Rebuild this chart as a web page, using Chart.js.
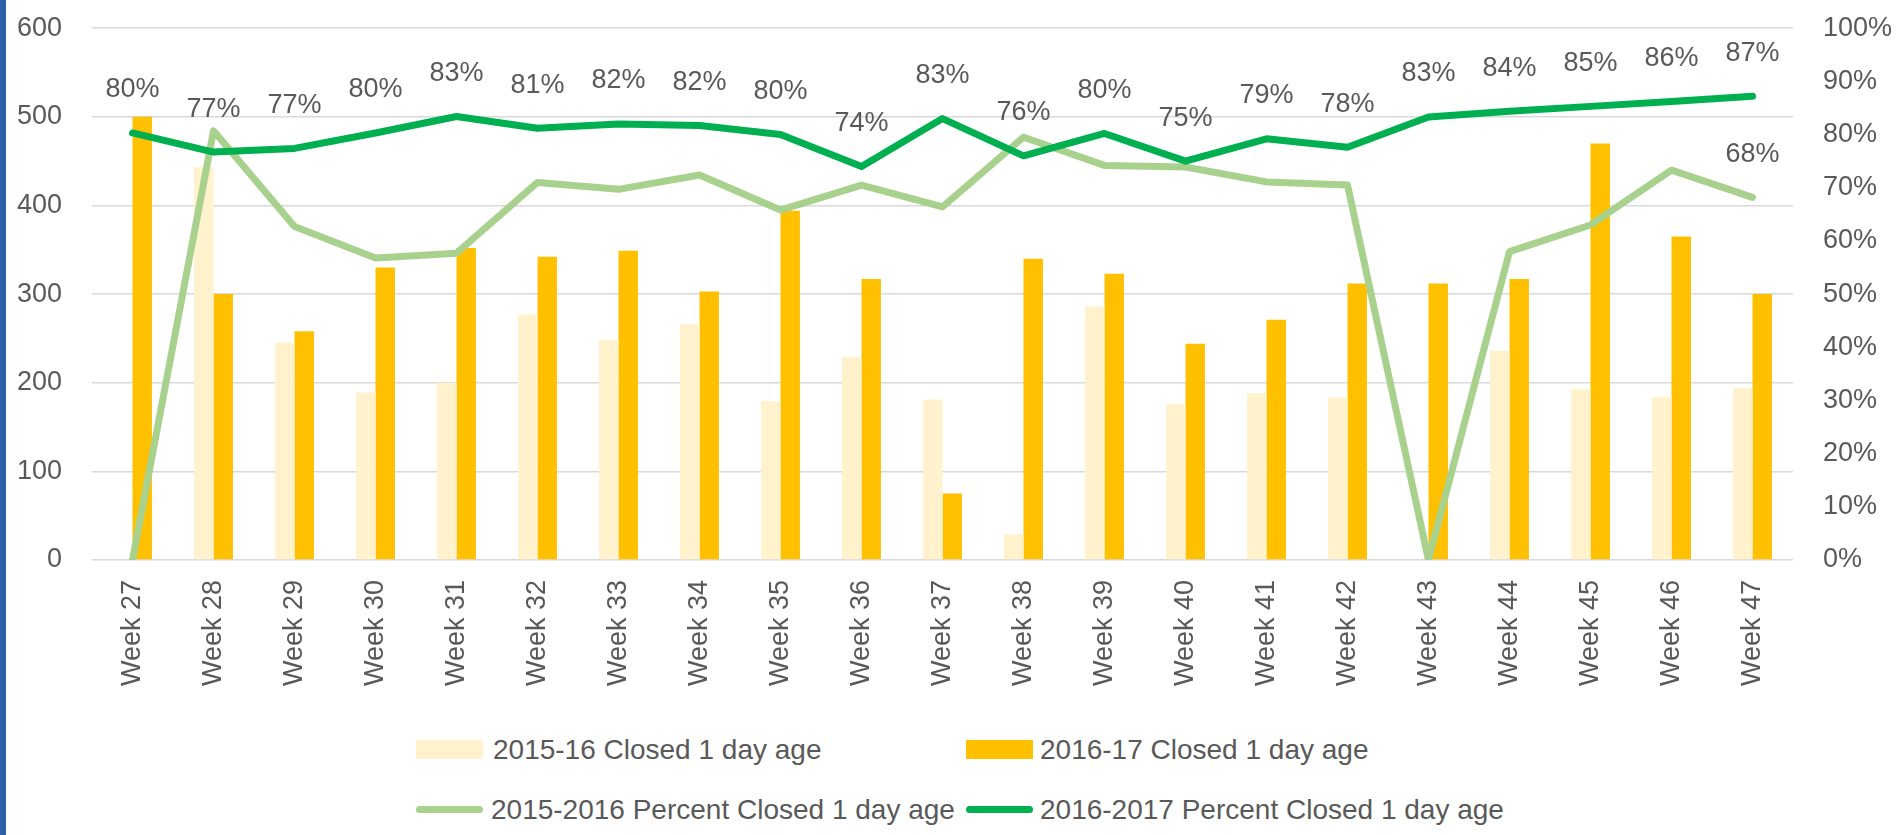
<!DOCTYPE html>
<html>
<head>
<meta charset="utf-8">
<script src="https://cdn.jsdelivr.net/npm/chart.js@4"></script>
<style>
  html, body { margin: 0; padding: 0; background: #ffffff; }
  body { width: 1901px; height: 835px; position: relative; overflow: hidden; font-family: "Liberation Sans", Arial, sans-serif; }
  #strip { position: absolute; left: 0; top: 0; width: 6px; height: 835px; background: #2F5EA8; }
  #wrap { position: absolute; left: 0; top: -18px; width: 1901px; height: 718px; }
  .lg { position: absolute; font-size: 28px; color: #595959; white-space: nowrap; line-height: 32px; }
  .sw { position: absolute; }
</style>
</head>
<body>
<div id="wrap"><canvas id="c" width="1901" height="718"></canvas></div>
<div id="strip"></div>
<div id="legend"></div>
<script>
const weeks = ["Week 27","Week 28","Week 29","Week 30","Week 31","Week 32","Week 33","Week 34","Week 35","Week 36","Week 37","Week 38","Week 39","Week 40","Week 41","Week 42","Week 43","Week 44","Week 45","Week 46","Week 47"];
const closed1516 = [0, 443, 245, 189, 200, 277, 248, 266, 179, 229, 181, 29, 286, 176, 188, 183, 0, 236, 193, 184, 194];
const closed1617 = [500, 300, 258, 330, 352, 342, 349, 303, 394, 317, 75, 340, 323, 244, 271, 312, 312, 317, 470, 365, 300];
const pct1516 = [0, 80.7, 62.7, 56.8, 57.7, 71, 69.7, 72.4, 65.8, 70.5, 66.4, 79.5, 74.2, 73.9, 71.1, 70.5, 0, 58, 63, 73.3, 68.2];
const pct1617 = [80.3, 76.7, 77.4, 80.3, 83.4, 81.2, 82, 81.7, 80, 74, 83, 76, 80.2, 75, 79.2, 77.6, 83.3, 84.4, 85.3, 86.2, 87.2];
const leftTicks = [0, 100, 200, 300, 400, 500, 600];
const rightTicks = [0, 10, 20, 30, 40, 50, 60, 70, 80, 90, 100];
const seriesNames = ["2015-16 Closed 1 day age", "2016-17 Closed 1 day age", "2015-2016 Percent Closed 1 day age", "2016-2017 Percent Closed 1 day age"];
const pct1516LabelIdx = [20];

const FONT = '"Liberation Sans", Arial, sans-serif';
const TXT = '#595959';
const colors = { light: '#FFF2CC', orange: '#FFC000', lgreen: '#A9D18E', dgreen: '#00B050' };

const pointLabels = {
  id: 'pointLabels',
  afterDatasetsDraw(chart) {
    const ctx = chart.ctx;
    ctx.save();
    ctx.font = '27px ' + FONT;
    ctx.fillStyle = TXT;
    ctx.textAlign = 'center';
    ctx.textBaseline = 'middle';
    chart.data.datasets.forEach((ds, di) => {
      if (!ds.labelIdx) return;
      const meta = chart.getDatasetMeta(di);
      ds.labelIdx.forEach(i => {
        const p = meta.data[i];
        ctx.fillText(Math.round(ds.data[i]) + '%', p.x, p.y - 43);
      });
    });
    ctx.restore();
  }
};

new Chart(document.getElementById('c'), {
  data: {
    labels: weeks,
    datasets: [
      { type: 'bar', label: seriesNames[0], data: closed1516, backgroundColor: colors.light, yAxisID: 'y', order: 3, barPercentage: 1, categoryPercentage: 0.48 },
      { type: 'bar', label: seriesNames[1], data: closed1617, backgroundColor: colors.orange, yAxisID: 'y', order: 3, barPercentage: 1, categoryPercentage: 0.48 },
      { type: 'line', label: seriesNames[2], data: pct1516, borderColor: colors.lgreen, backgroundColor: colors.lgreen, borderWidth: 7, pointRadius: 0, tension: 0, yAxisID: 'y1', order: 2, borderCapStyle: 'round', borderJoinStyle: 'round', labelIdx: pct1516LabelIdx },
      { type: 'line', label: seriesNames[3], data: pct1617, borderColor: colors.dgreen, backgroundColor: colors.dgreen, borderWidth: 7, pointRadius: 0, tension: 0, yAxisID: 'y1', order: 1, borderCapStyle: 'round', borderJoinStyle: 'round', labelIdx: pct1617.map((v, i) => i) }
    ]
  },
  options: {
    responsive: false,
    animation: false,
    devicePixelRatio: 1,
    layout: { padding: { top: 0, left: 0, right: 0, bottom: 0 } },
    plugins: { legend: { display: false }, tooltip: { enabled: false } },
    scales: {
      x: {
        grid: { display: false, drawTicks: false },
        border: { display: false },
        ticks: { color: TXT, font: { family: FONT, size: 27 }, minRotation: 90, maxRotation: 90, padding: 20, autoSkip: false },
        afterFit(s) { s.height = 140; }
      },
      y: {
        position: 'left', min: 0, max: 600,
        afterBuildTicks(s) { s.ticks = leftTicks.map(v => ({ value: v })); },
        grid: { color: '#D9D9D9', lineWidth: 1.5, drawTicks: false },
        border: { display: false },
        ticks: { color: TXT, font: { family: FONT, size: 27 }, padding: 30 },
        afterFit(s) { s.width = 92; }
      },
      y1: {
        position: 'right', min: 0, max: 100,
        afterBuildTicks(s) { s.ticks = rightTicks.map(v => ({ value: v })); },
        grid: { display: false, drawTicks: false },
        border: { display: false },
        ticks: { color: TXT, font: { family: FONT, size: 27 }, padding: 30, callback: v => v + '%' },
        afterFit(s) { s.width = 108; }
      }
    }
  },
  plugins: [pointLabels]
});

// HTML legend laid out in a 2x2 grid like the original
const lg = document.getElementById('legend');
const items = [
  { name: seriesNames[0], kind: 'box', color: colors.light, sx: 416, tx: 493, cy: 750 },
  { name: seriesNames[1], kind: 'box', color: colors.orange, sx: 966, tx: 1040, cy: 750 },
  { name: seriesNames[2], kind: 'line', color: colors.lgreen, sx: 416, tx: 491, cy: 810 },
  { name: seriesNames[3], kind: 'line', color: colors.dgreen, sx: 966, tx: 1040, cy: 810 }
];
items.forEach(it => {
  const sw = document.createElement('div');
  sw.className = 'sw';
  if (it.kind === 'box') {
    sw.style.cssText = `left:${it.sx}px;top:${it.cy - 10}px;width:67px;height:19px;background:${it.color};`;
  } else {
    sw.style.cssText = `left:${it.sx}px;top:${it.cy - 4}px;width:67px;height:7px;border-radius:4px;background:${it.color};`;
  }
  lg.appendChild(sw);
  const t = document.createElement('div');
  t.className = 'lg';
  t.textContent = it.name;
  t.style.left = it.tx + 'px';
  t.style.top = (it.cy - 16) + 'px';
  lg.appendChild(t);
});
</script>
</body>
</html>
